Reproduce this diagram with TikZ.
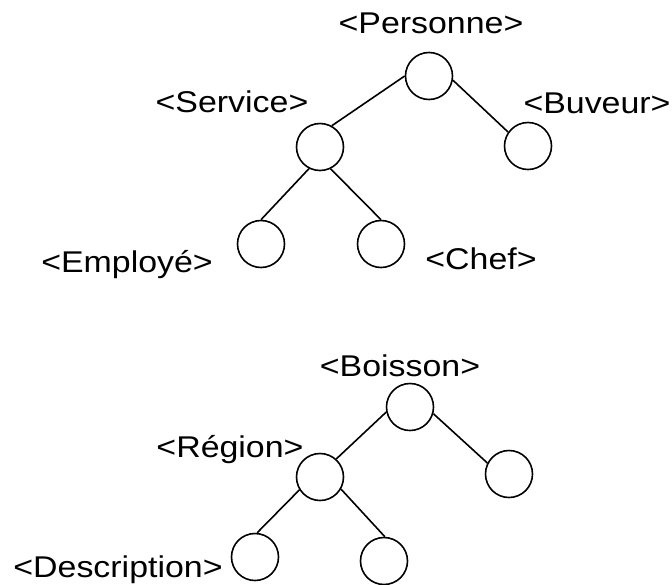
\documentclass[tikz,border=0pt]{standalone}
\usepackage{fontspec}
\setmainfont{Liberation Sans}[FakeStretch=1.13]
\begin{document}
\begin{tikzpicture}[x=1pt,y=-1pt,
    elem/.style={draw,circle,line width=1.6pt,minimum size=47pt,inner sep=0pt},
    tag/.style={anchor=base,inner sep=0pt,font=\fontsize{30}{36}\selectfont},
    link/.style={line width=1.6pt}]
  \useasboundingbox (0,0) rectangle (672,584);

  % Personne hierarchy
  \node[elem] (per) at (429,76) {};
  \node[elem] (ser) at (320,147) {};
  \node[elem] (buv) at (528,146) {};
  \node[elem] (emp) at (261,244) {};
  \node[elem] (chf) at (381,244) {};

  \node[tag] (tper) at (431,33) {<Personne>};
  \node[tag] (tser) at (232,112) {<Service>};
  \node[tag] (tbuv) at (597,113) {<Buveur>};
  \node[tag] (temp) at (127,272) {<Employé>};
  \node[tag] (tchf) at (481,269) {<Chef>};

  \draw[link] (per.180) -- (ser.61);
  \draw[link] (per.-10) -- (buv.145);
  \draw[link] (ser.-117) -- (emp.90);
  \draw[link] (ser.-64) -- (chf.90);

  % Boisson hierarchy
  \node[elem] (boi) at (410,407) {};
  \node[elem] (reg) at (320,477) {};
  \node[elem] (brt) at (509,474) {};
  \node[elem] (des) at (255,557) {};
  \node[elem] (rrt) at (384,561) {};

  \node[tag] (tboi) at (400,376) {<Boisson>};
  \node[tag] (treg) at (230,457) {<Région>};
  \node[tag] (tdes) at (118,577) {<Description>};

  \draw[link] (boi.192) -- (reg.48);
  \draw[link] (boi.-16) -- (brt.153);
  \draw[link] (reg.212) -- (des.85);
  \draw[link] (reg.-30) -- (rrt.88);
\end{tikzpicture}
\end{document}
